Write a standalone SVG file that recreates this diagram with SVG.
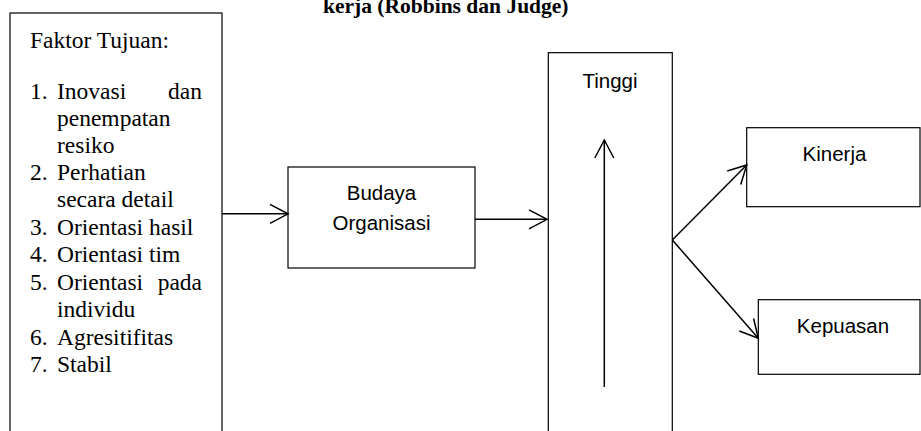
<svg xmlns="http://www.w3.org/2000/svg" width="921" height="431" viewBox="0 0 921 431">
  <style>
    .box { fill: #ffffff; stroke: #000000; stroke-width: 1.2; }
    .serif { font-family: "Liberation Serif", "Times New Roman", serif; font-size: 23.5px; fill: #000000; }
    .title { font-family: "Liberation Serif", "Times New Roman", serif; font-size: 21.5px; font-weight: bold; fill: #000000; }
    .sans { font-family: "Liberation Sans", Arial, sans-serif; font-size: 20.5px; fill: #000000; text-anchor: middle; }
    .link { fill: none; stroke: #000000; stroke-width: 1.5; marker-end: url(#chevron); }
  </style>
  <defs>
    <marker id="chevron" markerUnits="userSpaceOnUse" markerWidth="24" markerHeight="24" viewBox="-20 -12 24 24" refX="0" refY="0" orient="auto">
      <path d="M-18,-9.5 L0,0 L-18,9.5" fill="none" stroke="#000000" stroke-width="1.5"/>
    </marker>
  </defs>
  <rect width="921" height="431" fill="#ffffff"/>

  <!-- heading, partly cut off at the top edge -->
  <text class="title" x="323" y="13">kerja (Robbins dan Judge)</text>

  <!-- factor list -->
  <g id="faktor-tujuan">
    <rect class="box" x="10" y="13" width="212" height="430"/>
    <text class="serif" x="30" y="47.5">Faktor Tujuan:</text>
    <text class="serif" x="30" y="98.5">1.</text>
    <text class="serif" x="57" y="98.5">Inovasi</text>
    <text class="serif" x="202" y="98.5" text-anchor="end">dan</text>
    <text class="serif" x="57" y="126">penempatan</text>
    <text class="serif" x="57" y="152.7">resiko</text>
    <text class="serif" x="30" y="180">2.</text>
    <text class="serif" x="57" y="180">Perhatian</text>
    <text class="serif" x="57" y="207">secara detail</text>
    <text class="serif" x="30" y="235">3.</text>
    <text class="serif" x="57" y="235">Orientasi hasil</text>
    <text class="serif" x="30" y="262">4.</text>
    <text class="serif" x="57" y="262">Orientasi tim</text>
    <text class="serif" x="30" y="290">5.</text>
    <text class="serif" x="57" y="290">Orientasi</text>
    <text class="serif" x="202" y="290" text-anchor="end">pada</text>
    <text class="serif" x="57" y="317">individu</text>
    <text class="serif" x="30" y="345">6.</text>
    <text class="serif" x="57" y="345">Agresitifitas</text>
    <text class="serif" x="30" y="372">7.</text>
    <text class="serif" x="57" y="372">Stabil</text>
  </g>

  <g id="budaya-organisasi">
    <rect class="box" x="288" y="167" width="187" height="101"/>
    <text class="sans" x="381.5" y="200">Budaya</text>
    <text class="sans" x="381.5" y="230">Organisasi</text>
  </g>

  <g id="tinggi">
    <rect class="box" x="548.3" y="52.7" width="124" height="400"/>
    <text class="sans" x="610" y="87.5">Tinggi</text>
  </g>

  <g id="kinerja">
    <rect class="box" x="746.7" y="127.7" width="173.3" height="79"/>
    <text class="sans" x="834.5" y="160.7">Kinerja</text>
  </g>

  <g id="kepuasan">
    <rect class="box" x="758.3" y="299.7" width="161.7" height="74.6"/>
    <text class="sans" x="843" y="333">Kepuasan</text>
  </g>

  <g id="connectors">
    <line class="link" x1="222" y1="213.8" x2="288" y2="213.8"/>
    <line class="link" x1="475" y1="219.3" x2="547" y2="219.3"/>
    <line class="link" x1="604.3" y1="387" x2="604.3" y2="140"/>
    <line class="link" x1="672.3" y1="240" x2="746.7" y2="165"/>
    <line class="link" x1="672.3" y1="240" x2="758.3" y2="338.3"/>
  </g>
</svg>
